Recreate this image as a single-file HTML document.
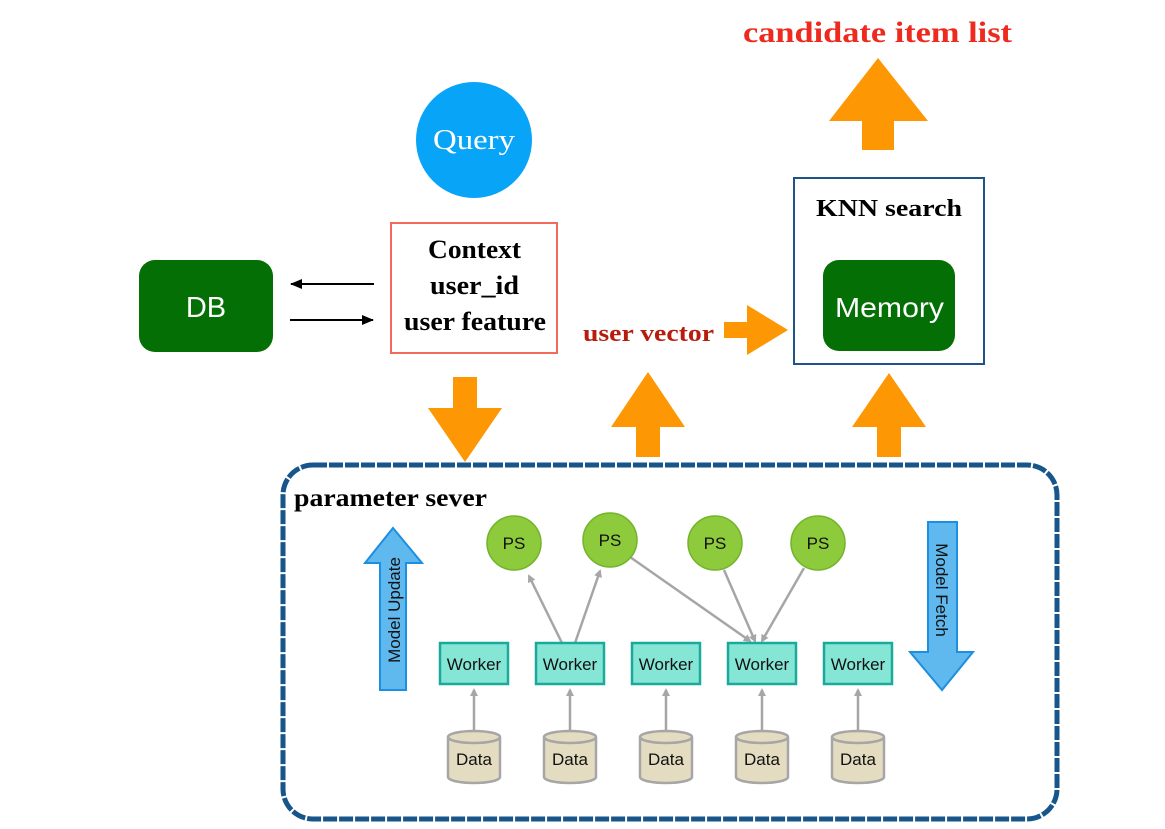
<!DOCTYPE html>
<html><head><meta charset="utf-8"><style>
html,body{margin:0;padding:0;background:#fff;}
svg{display:block;}
.serif{font-family:"Liberation Serif",serif;font-weight:bold;}
.sans{font-family:"Liberation Sans",sans-serif;}
</style></head><body>
<svg width="1165" height="829" viewBox="0 0 1165 829" xmlns="http://www.w3.org/2000/svg">
<defs>
<marker id="ga" markerWidth="8" markerHeight="8" refX="6" refY="4" orient="auto" markerUnits="userSpaceOnUse"><path d="M0,0 L8,4 L0,8 Z" fill="#a6a6a6"/></marker>
<marker id="ka" markerWidth="12" markerHeight="10" refX="11" refY="5" orient="auto" markerUnits="userSpaceOnUse"><path d="M0,0 L12,5 L0,10 Z" fill="#000"/></marker>
</defs>
<text x="743" y="42" textLength="269" lengthAdjust="spacingAndGlyphs" class="serif" font-size="30" fill="#ee2a1e">candidate item list</text>
<polygon points="878,58 928,121 894,121 894,150 862,150 862,121 829,121" fill="#fd9704"/>
<circle cx="474" cy="140" r="58" fill="#08a4f8"/>
<text x="433" y="149" textLength="82" lengthAdjust="spacingAndGlyphs" font-family="Liberation Serif,serif" font-size="28" fill="#fff">Query</text>
<rect x="391" y="223" width="166" height="130" fill="#fff" stroke="#f4695b" stroke-width="2"/>
<text x="428" y="258" textLength="93" lengthAdjust="spacingAndGlyphs" class="serif" font-size="26">Context</text>
<text x="430" y="294" textLength="89" lengthAdjust="spacingAndGlyphs" class="serif" font-size="26">user_id</text>
<text x="404" y="330" textLength="142" lengthAdjust="spacingAndGlyphs" class="serif" font-size="26">user feature</text>
<rect x="139" y="260" width="134" height="92" rx="16" fill="#046f04"/>
<text x="206" y="317" text-anchor="middle" class="sans" font-size="29" fill="#fff">DB</text>
<line x1="374" y1="284" x2="291" y2="284" stroke="#000" stroke-width="2" marker-end="url(#ka)"/>
<line x1="290" y1="320" x2="373" y2="320" stroke="#000" stroke-width="2" marker-end="url(#ka)"/>
<polygon points="453,377 477,377 477,408 502,408 465,462 428,408 453,408" fill="#fd9704"/>
<polygon points="648,372 685,427 660,427 660,457 636,457 636,427 611,427" fill="#fd9704"/>
<text x="583" y="341" textLength="131" lengthAdjust="spacingAndGlyphs" class="serif" font-size="24" fill="#b71c0e">user vector</text>
<polygon points="724,322 747,322 747,305 788,330 747,355 747,338 724,338" fill="#fd9704"/>
<rect x="794" y="178" width="190" height="186" fill="#fff" stroke="#1f5286" stroke-width="2"/>
<text x="816" y="216" textLength="146" lengthAdjust="spacingAndGlyphs" class="serif" font-size="24">KNN search</text>
<rect x="823" y="260" width="132" height="91" rx="16" fill="#046f04"/>
<text x="835" y="317" textLength="109" lengthAdjust="spacingAndGlyphs" class="sans" font-size="28" fill="#fff">Memory</text>
<polygon points="889,373 926,427 901,427 901,457 877,457 877,427 852,427" fill="#fd9704"/>
<rect x="283" y="465" width="774" height="354" rx="30" fill="none" stroke="#16568a" stroke-width="5" stroke-dasharray="14 2"/>
<text x="294" y="506" textLength="193" lengthAdjust="spacingAndGlyphs" class="serif" font-size="25">parameter sever</text>
<polygon points="393,528 422,563 406,563 406,690 380,690 380,563 365,563" fill="#5fb8ee" stroke="#1d8fe0" stroke-width="2"/>
<text transform="translate(400,610) rotate(-90)" text-anchor="middle" class="sans" font-size="17" fill="#111">Model Update</text>
<polygon points="928,522 957,522 957,652 973,652 942,690 910,652 928,652" fill="#5fb8ee" stroke="#1d8fe0" stroke-width="2"/>
<text transform="translate(936,590) rotate(90)" text-anchor="middle" class="sans" font-size="17" fill="#111">Model Fetch</text>
<g stroke="#a6a6a6" stroke-width="2.5" fill="none">
<line x1="562" y1="643" x2="529" y2="576" marker-end="url(#ga)"/>
<line x1="575" y1="643" x2="600" y2="571" marker-end="url(#ga)"/>
<line x1="630" y1="557" x2="750" y2="641" marker-end="url(#ga)"/>
<line x1="724" y1="570" x2="755" y2="641" marker-end="url(#ga)"/>
<line x1="804" y1="568" x2="762" y2="641" marker-end="url(#ga)"/>
<line x1="474" y1="730" x2="474" y2="690" marker-end="url(#ga)"/>
<line x1="570" y1="730" x2="570" y2="690" marker-end="url(#ga)"/>
<line x1="666" y1="730" x2="666" y2="690" marker-end="url(#ga)"/>
<line x1="762" y1="730" x2="762" y2="690" marker-end="url(#ga)"/>
<line x1="858" y1="730" x2="858" y2="690" marker-end="url(#ga)"/>
</g>
<g fill="#8dcb3c" stroke="#74b42a" stroke-width="1.5">
<circle cx="514" cy="543" r="27"/><circle cx="610" cy="540" r="27"/><circle cx="715" cy="543" r="27"/><circle cx="818" cy="543" r="27"/>
</g>
<g class="sans" font-size="17" text-anchor="middle" fill="#111">
<text x="514" y="549">PS</text><text x="610" y="546">PS</text><text x="715" y="549">PS</text><text x="818" y="549">PS</text>
</g>
<g fill="#86e6d6" stroke="#1aaa9c" stroke-width="2.5">
<rect x="440" y="643" width="68" height="41"/><rect x="536" y="643" width="68" height="41"/><rect x="632" y="643" width="68" height="41"/><rect x="728" y="643" width="68" height="41"/><rect x="824" y="643" width="68" height="41"/>
</g>
<g class="sans" font-size="17" text-anchor="middle" fill="#111">
<text x="474" y="670">Worker</text><text x="570" y="670">Worker</text><text x="666" y="670">Worker</text><text x="762" y="670">Worker</text><text x="858" y="670">Worker</text>
</g>
<g fill="#e3dcc0" stroke="#a6a6a6" stroke-width="2.5">
<path d="M448,737 v40 a26,6 0 0 0 52,0 v-40 a26,6 0 0 0 -52,0 a26,6 0 0 0 52,0"/>
<path d="M544,737 v40 a26,6 0 0 0 52,0 v-40 a26,6 0 0 0 -52,0 a26,6 0 0 0 52,0"/>
<path d="M640,737 v40 a26,6 0 0 0 52,0 v-40 a26,6 0 0 0 -52,0 a26,6 0 0 0 52,0"/>
<path d="M736,737 v40 a26,6 0 0 0 52,0 v-40 a26,6 0 0 0 -52,0 a26,6 0 0 0 52,0"/>
<path d="M832,737 v40 a26,6 0 0 0 52,0 v-40 a26,6 0 0 0 -52,0 a26,6 0 0 0 52,0"/>
</g>
<g class="sans" font-size="17" text-anchor="middle" fill="#111">
<text x="474" y="765">Data</text><text x="570" y="765">Data</text><text x="666" y="765">Data</text><text x="762" y="765">Data</text><text x="858" y="765">Data</text>
</g>
</svg>
</body></html>
